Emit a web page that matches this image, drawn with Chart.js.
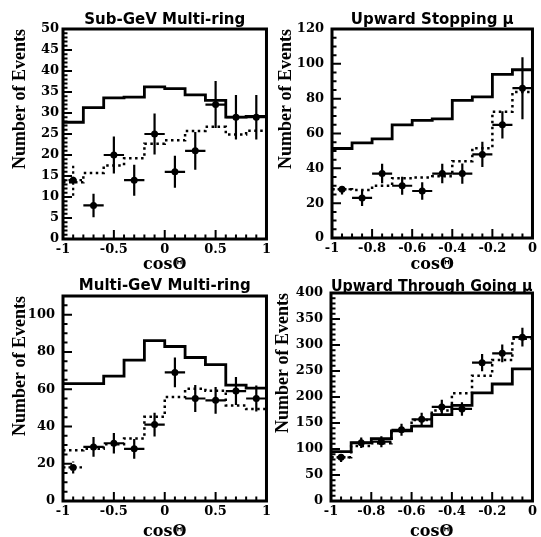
<!DOCTYPE html>
<html>
<head>
<meta charset="utf-8">
<script src="https://cdn.jsdelivr.net/npm/chart.js@4.4.1/dist/chart.umd.min.js"></script>
<style>
  html, body { margin: 0; padding: 0; background: #fff; overflow: hidden; }
  #wrap { position: relative; width: 541px; height: 537px; overflow: hidden; background: #fff; }
  canvas { position: absolute; }
</style>
</head>
<body>
<div id="wrap">
  <canvas id="c1" width="275" height="273" style="left:0px;top:0px"></canvas>
  <canvas id="c2" width="275" height="273" style="left:266px;top:0px"></canvas>
  <canvas id="c3" width="275" height="268" style="left:0px;top:272px"></canvas>
  <canvas id="c4" width="278" height="268" style="left:263px;top:272px"></canvas>
</div>
<script>
// bin edges (cos theta)
const edgesFull = [-1, -0.8, -0.6, -0.4, -0.2, 0, 0.2, 0.4, 0.6, 0.8, 1];
const edgesUp = [-1, -0.9, -0.8, -0.7, -0.6, -0.5, -0.4, -0.3, -0.2, -0.1, 0];

// Sub-GeV multi-ring
const subNoOsc = [27.8, 31.3, 33.6, 33.8, 36.2, 35.8, 34.3, 33.0, 29.0, 29.2];
const subOsc = [13.5, 15.7, 17.5, 19.2, 22.7, 23.5, 25.7, 26.7, 24.9, 25.8];
const subData = [14, 8, 20, 14, 25, 16, 21, 32, 29, 29];
const subErr = [3.7, 2.8, 4.4, 3.7, 4.9, 3.8, 4.5, 5.6, 5.3, 5.3];

// upward stopping mu
const stopNoOsc = [51.4, 54.6, 56.9, 65.0, 67.5, 68.4, 79.0, 81.0, 94.0, 96.6];
const stopOsc = [28.0, 27.5, 30.0, 34.3, 34.8, 35.4, 44.1, 51.6, 72.5, 83.8];
const stopData = [28, 23, 37, 30, 27, 37, 37, 48, 65, 86];
const stopErr = [3.0, 4.6, 5.6, 5.2, 5.0, 5.6, 5.8, 7.2, 7.8, 17.8];

// Multi-GeV multi-ring
const multiNoOsc = [63.0, 63.0, 67.0, 75.6, 86.1, 82.9, 77.0, 73.2, 62.2, 60.6];
const multiOsc = [27.2, 28.0, 30.4, 33.5, 45.2, 55.8, 60.2, 59.2, 51.3, 49.3];
const multiData = [18, 29, 31, 28, 41, 69, 55, 54, 59, 55];
const multiErr = [3.2, 5.3, 5.5, 5.3, 6.4, 8.0, 7.2, 7.2, 7.5, 7.0];

// upward through going mu
const thruNoOsc = [95, 112, 120, 135, 144, 166, 184, 208, 225, 254];
const thruOsc = [84, 106, 111, 135, 156, 174, 207, 241, 271, 312];
const thruData = [84, 112, 114, 137, 157, 181, 177, 266, 284, 315];
const thruErr = [9, 10, 10.5, 11.5, 12.5, 13.5, 13, 16.5, 17, 18];

// tick labels
const xTicksFull = [-1, -0.5, 0, 0.5, 1];
const xTicksUp = [-1, -0.8, -0.6, -0.4, -0.2, 0];
const yTicksSub = [0, 5, 10, 15, 20, 25, 30, 35, 40, 45, 50];
const yTicksStop = [0, 20, 40, 60, 80, 100, 120];
const yTicksMulti = [0, 20, 40, 60, 80, 100];
const yTicksThru = [0, 50, 100, 150, 200, 250, 300, 350, 400];

/* ------------------------------------------------------------------ */
/*                               plugins                              */
/* ------------------------------------------------------------------ */

// frame + inner ticks (left and bottom)
const frameTicks = {
    id: 'frameTicks',
    afterDraw(chart, args, opts) {
        const { ctx, chartArea: a, scales: { x, y } } = chart;
        const isMajor = (s, v) => s.ticks.some(t => Math.abs(t.value - v) < 1e-6);
        ctx.save();
        ctx.strokeStyle = '#000';
        ctx.lineWidth = 2;
        ctx.beginPath();
        const nx = Math.round((x.max - x.min) / opts.xMinor);
        for (let i = 1; i < nx; i++) {
            const v = x.min + i * opts.xMinor;
            const px = x.getPixelForValue(v);
            ctx.moveTo(px, a.bottom);
            ctx.lineTo(px, a.bottom - (isMajor(x, v) ? 9 : 4.5));
        }
        const ny = Math.round((y.max - y.min) / opts.yMinor);
        for (let i = 1; i < ny; i++) {
            const v = y.min + i * opts.yMinor;
            const py = y.getPixelForValue(v);
            ctx.moveTo(a.left, py);
            ctx.lineTo(a.left + (isMajor(y, v) ? 9 : 4.5), py);
        }
        ctx.stroke();
        ctx.lineWidth = 3;
        ctx.strokeRect(a.left, a.top, a.right - a.left, a.bottom - a.top);
        ctx.restore();
    }
};

// error crosses for the data points
const errorBars = {
    id: 'errorBars',
    afterDatasetsDraw(chart) {
        const { ctx, scales: { x, y } } = chart;
        chart.data.datasets.forEach(ds => {
            if (!ds.errors) return;
            ctx.save();
            ctx.strokeStyle = '#000';
            ctx.lineWidth = 2.2;
            ds.data.forEach((pt, i) => {
                const px = x.getPixelForValue(pt.x);
                const py = y.getPixelForValue(pt.y);
                ctx.setLineDash(i === 0 ? [2.5, 3] : []);
                ctx.beginPath();
                ctx.moveTo(x.getPixelForValue(ds.edges[i]), py);
                ctx.lineTo(x.getPixelForValue(ds.edges[i + 1]), py);
                ctx.moveTo(px, y.getPixelForValue(pt.y - ds.errors[i]));
                ctx.lineTo(px, y.getPixelForValue(pt.y + ds.errors[i]));
                ctx.stroke();
            });
            ctx.restore();
        });
    }
};

/* ------------------------------------------------------------------ */
/*                               datasets                             */
/* ------------------------------------------------------------------ */

function histo(edges, vals, dotted) {
    return {
        type: 'line',
        data: edges.map((e, i) => ({ x: e, y: vals[Math.min(i, vals.length - 1)] })),
        stepped: 'before',
        borderColor: '#000',
        borderWidth: dotted ? 2.5 : 2.8,
        borderDash: dotted ? [2.5, 3.5] : [],
        borderCapStyle: 'butt',
        pointRadius: 0,
        fill: false
    };
}

function points(edges, vals, errs) {
    return {
        type: 'line',
        showLine: false,
        data: vals.map((v, i) => ({ x: (edges[i] + edges[i + 1]) / 2, y: v })),
        pointRadius: 3.5,
        pointBackgroundColor: '#000',
        pointBorderWidth: 0,
        errors: errs,
        edges: edges
    };
}

const tickFont = { family: 'DejaVu Serif', size: 13, weight: 'bold', lineHeight: 1 };

function makeChart(id, p) {
    return new Chart(document.getElementById(id), {
        type: 'line',
        data: {
            datasets: [
                histo(p.edges, p.noOsc, false),
                histo(p.edges, p.osc, true),
                points(p.edges, p.data, p.err)
            ]
        },
        options: {
            responsive: false,
            animation: false,
            events: [],
            layout: { autoPadding: false, padding: { left: 0, right: p.padRight, top: 0, bottom: 0 } },
            plugins: {
                legend: { display: false },
                tooltip: { enabled: false },
                title: {
                    display: true,
                    fullSize: false,
                    text: p.title,
                    color: '#000',
                    font: { family: 'DejaVu Sans', size: 15, weight: 'bold', lineHeight: 1 },
                    padding: { top: p.titleTop, bottom: p.titleBottom }
                },
                frameTicks: { xMinor: p.xMinor, yMinor: p.yMinor }
            },
            scales: {
                x: {
                    type: 'linear',
                    min: p.edges[0],
                    max: p.edges[p.edges.length - 1],
                    grid: { display: false, drawTicks: false },
                    border: { display: false },
                    ticks: { color: '#000', font: tickFont, padding: 4, autoSkip: false, maxRotation: 0, callback: v => String(v) },
                    afterBuildTicks: s => { s.ticks = p.xTicks.map(v => ({ value: v })); },
                    afterFit: s => { s.height = p.xHeight; },
                    title: {
                        display: true, text: 'cosΘ', color: '#000', padding: 0,
                        font: { family: 'DejaVu Serif', size: 16, weight: 'bold', lineHeight: 1 }
                    }
                },
                y: {
                    type: 'linear',
                    min: 0,
                    max: p.yMax,
                    grid: { display: false, drawTicks: false },
                    border: { display: false },
                    ticks: { color: '#000', font: tickFont, padding: p.yPad, autoSkip: false, callback: v => String(v) },
                    afterBuildTicks: s => { s.ticks = p.yTicks.map(v => ({ value: v })); },
                    afterFit: s => { s.width = p.yWidth; },
                    title: {
                        display: true, text: 'Number of Events', color: '#000', align: 'end',
                        padding: { top: 11, bottom: 0 },
                        font: { family: 'Liberation Serif', size: 18, weight: 'bold', lineHeight: 1 }
                    }
                }
            }
        },
        plugins: [errorBars, frameTicks]
    });
}

makeChart('c1', {
    title: 'Sub-GeV Multi-ring', edges: edgesFull,
    noOsc: subNoOsc, osc: subOsc, data: subData, err: subErr,
    xTicks: xTicksFull, yTicks: yTicksSub, yMax: 50, xMinor: 0.1, yMinor: 1,
    yWidth: 63, yPad: 4, xHeight: 34, padRight: 5, titleTop: 13, titleBottom: 1
});
makeChart('c2', {
    title: 'Upward Stopping μ', edges: edgesUp,
    noOsc: stopNoOsc, osc: stopOsc, data: stopData, err: stopErr,
    xTicks: xTicksUp, yTicks: yTicksStop, yMax: 120, xMinor: 0.05, yMinor: 5,
    yWidth: 66, yPad: 8, xHeight: 35, padRight: 4, titleTop: 13, titleBottom: 1
});
makeChart('c3', {
    title: 'Multi-GeV Multi-ring', edges: edgesFull,
    noOsc: multiNoOsc, osc: multiOsc, data: multiData, err: multiErr,
    xTicks: xTicksFull, yTicks: yTicksMulti, yMax: 110, xMinor: 0.1, yMinor: 5,
    yWidth: 63, yPad: 8, xHeight: 39, padRight: 5, titleTop: 7, titleBottom: 2
});
makeChart('c4', {
    title: 'Upward Through Going μ', edges: edgesUp,
    noOsc: thruNoOsc, osc: thruOsc, data: thruData, err: thruErr,
    xTicks: xTicksUp, yTicks: yTicksThru, yMax: 400, xMinor: 0.05, yMinor: 10,
    yWidth: 68, yPad: 8, xHeight: 39, padRight: 4, titleTop: 8, titleBottom: -2
});
</script>
</body>
</html>
